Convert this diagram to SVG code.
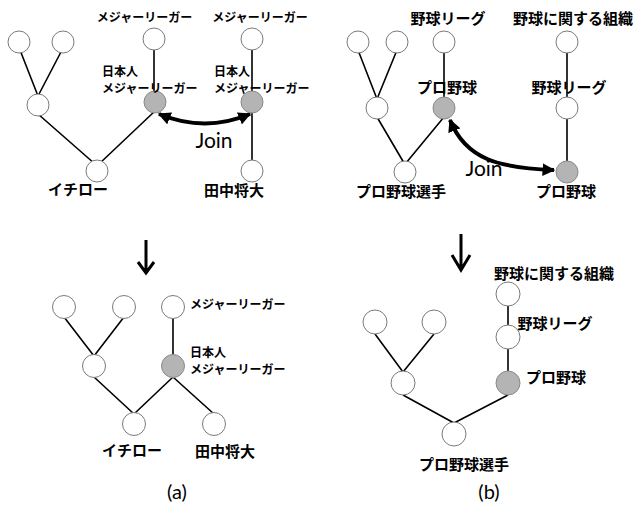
<svg xmlns="http://www.w3.org/2000/svg" width="638" height="506" viewBox="0 0 638 506">
<style>
.n{fill:#fff;stroke:#7a7a7a;stroke-width:1}
.g{fill:#b4b4b4;stroke:#8a8a8a;stroke-width:1}
.e{stroke:#000;stroke-width:1.6;fill:none}
.j{stroke:#000;stroke-width:4;fill:none}
.t{font-family:"Noto Sans CJK JP","Noto Sans CJK SC",sans-serif;font-weight:bold;fill:#000}
.s{font-size:12px}
.m{font-size:15px}
.l{font-family:Lato,"Open Sans",sans-serif;fill:#000}
.ar{stroke:#000;stroke-width:3;fill:none}
</style>
<defs>
<marker id="ah" viewBox="0 0 10 10" refX="9" refY="5" markerWidth="3.2" markerHeight="3.2" orient="auto-start-reverse" markerUnits="strokeWidth">
<path d="M0,0 L10,5 L0,10 Z" fill="#000"/>
</marker>
</defs>
<g id="connectors">
<path class="e" d="M20,50 L38,96 M62,50 L38,96 M38,114 L95,164 M155,111 L99,164 M154,50 L154,93 M252,50 L252,93 M252,111 L252,162"/>
<path class="e" d="M358,50 L377,99 M397,50 L377,99 M377,117 L404,163 M444,117 L406,163 M444,50 L444,97 M567,50 L567,97 M567,119 L567,161"/>
<path class="e" d="M64,317 L94,356 M124,317 L94,356 M94,377 L134,414 M173,377 L134,414 M173,377 L214,414 M173,318 L173,355"/>
<path class="e" d="M375,334 L403,372 M434,334 L403,372 M403,395 L454,423 M508,395 L454,423 M508,306 L508,325 M508,349 L508,371"/>
<path id="join-a" class="j" d="M159,114 Q205,133 250,114" marker-start="url(#ah)" marker-end="url(#ah)"/>
<path id="join-b" class="j" d="M450,120 C466,160 500,168 554,170" marker-start="url(#ah)" marker-end="url(#ah)"/>
<path id="down-a" class="ar" d="M146,240 L146,272 M138,262 L146,273 L154,262"/>
<path id="down-b" class="ar" d="M461,234 L461,269 M452,255 L461,270 L470,255"/>
</g>
<g id="a-top">
<g id="a1"><circle class="n" cx="19" cy="42" r="11"/></g>
<g id="a2"><circle class="n" cx="63" cy="42" r="11"/></g>
<g id="a3"><circle class="n" cx="154" cy="39" r="11"/><text class="t s" x="144.5" y="22" text-anchor="middle">メジャーリーガー</text></g>
<g id="a4"><circle class="n" cx="252" cy="39" r="11"/><text class="t s" x="260" y="22" text-anchor="middle">メジャーリーガー</text></g>
<g id="a5"><circle class="n" cx="38" cy="105" r="11"/></g>
<g id="a6"><circle class="g" cx="155" cy="102" r="11"/><text class="t s" x="102" y="76">日本人</text><text class="t s" x="102" y="93">メジャーリーガー</text></g>
<g id="a7"><circle class="g" cx="252" cy="102" r="11"/><text class="t s" x="214" y="76">日本人</text><text class="t s" x="214" y="93">メジャーリーガー</text></g>
<g id="a8"><circle class="n" cx="97" cy="171" r="11"/><text class="t m" x="78" y="195" text-anchor="middle">イチロー</text></g>
<g id="a9"><circle class="n" cx="252" cy="171" r="11"/><text class="t m" x="234" y="196" text-anchor="middle">田中将大</text></g>
<text class="l" x="214" y="148" font-size="21" text-anchor="middle">Join</text>
</g>
<g id="b-top">
<g id="b1"><circle class="n" cx="358" cy="42" r="11"/></g>
<g id="b2"><circle class="n" cx="397" cy="42" r="11"/></g>
<g id="b3"><circle class="n" cx="444" cy="42" r="11"/><text class="t m" x="448" y="24" text-anchor="middle">野球リーグ</text></g>
<g id="b4"><circle class="n" cx="567" cy="42" r="11"/><text class="t m" x="573" y="24" text-anchor="middle">野球に関する組織</text></g>
<g id="b5"><circle class="n" cx="377" cy="108" r="11"/></g>
<g id="b6"><circle class="g" cx="444" cy="108" r="11"/><text class="t m" x="447" y="93" text-anchor="middle">プロ野球</text></g>
<g id="b7"><circle class="n" cx="567" cy="108" r="11"/><text class="t m" x="569" y="93" text-anchor="middle">野球リーグ</text></g>
<g id="b8"><circle class="n" cx="405" cy="172" r="11"/><text class="t m" x="401" y="197" text-anchor="middle">プロ野球選手</text></g>
<g id="b9"><circle class="g" cx="567" cy="172" r="11"/><text class="t m" x="566" y="197" text-anchor="middle">プロ野球</text></g>
<text class="l" x="484" y="176" font-size="21" text-anchor="middle">Join</text>
</g>
<g id="a-bottom">
<g id="c1"><circle class="n" cx="64" cy="307" r="11.5"/></g>
<g id="c2"><circle class="n" cx="124" cy="307" r="11.5"/></g>
<g id="c3"><circle class="n" cx="173" cy="307" r="11.5"/><text class="t s" x="190" y="309">メジャーリーガー</text></g>
<g id="c4"><circle class="n" cx="94" cy="366" r="11.5"/></g>
<g id="c5"><circle class="g" cx="173" cy="366" r="11.5"/><text class="t s" x="190" y="357">日本人</text><text class="t s" x="190" y="374">メジャーリーガー</text></g>
<g id="c6"><circle class="n" cx="134" cy="424" r="11.5"/><text class="t m" x="132" y="456" text-anchor="middle">イチロー</text></g>
<g id="c7"><circle class="n" cx="214" cy="424" r="11.5"/><text class="t m" x="225" y="457" text-anchor="middle">田中将大</text></g>
<text class="l" x="177" y="499" font-size="20" text-anchor="middle">(a)</text>
</g>
<g id="b-bottom">
<g id="d1"><circle class="n" cx="508" cy="294" r="12"/><text class="t m" x="554" y="279" text-anchor="middle">野球に関する組織</text></g>
<g id="d2"><circle class="n" cx="508" cy="337" r="12"/><text class="t m" x="555" y="329" text-anchor="middle">野球リーグ</text></g>
<g id="d3"><circle class="g" cx="508" cy="383" r="12"/><text class="t m" x="556" y="383" text-anchor="middle">プロ野球</text></g>
<g id="d4"><circle class="n" cx="375" cy="322" r="12"/></g>
<g id="d5"><circle class="n" cx="434" cy="322" r="12"/></g>
<g id="d6"><circle class="n" cx="403" cy="383" r="12"/></g>
<g id="d7"><circle class="n" cx="454" cy="434" r="12"/><text class="t m" x="464" y="470" text-anchor="middle">プロ野球選手</text></g>
<text class="l" x="489" y="499" font-size="20" text-anchor="middle">(b)</text>
</g>
</svg>
